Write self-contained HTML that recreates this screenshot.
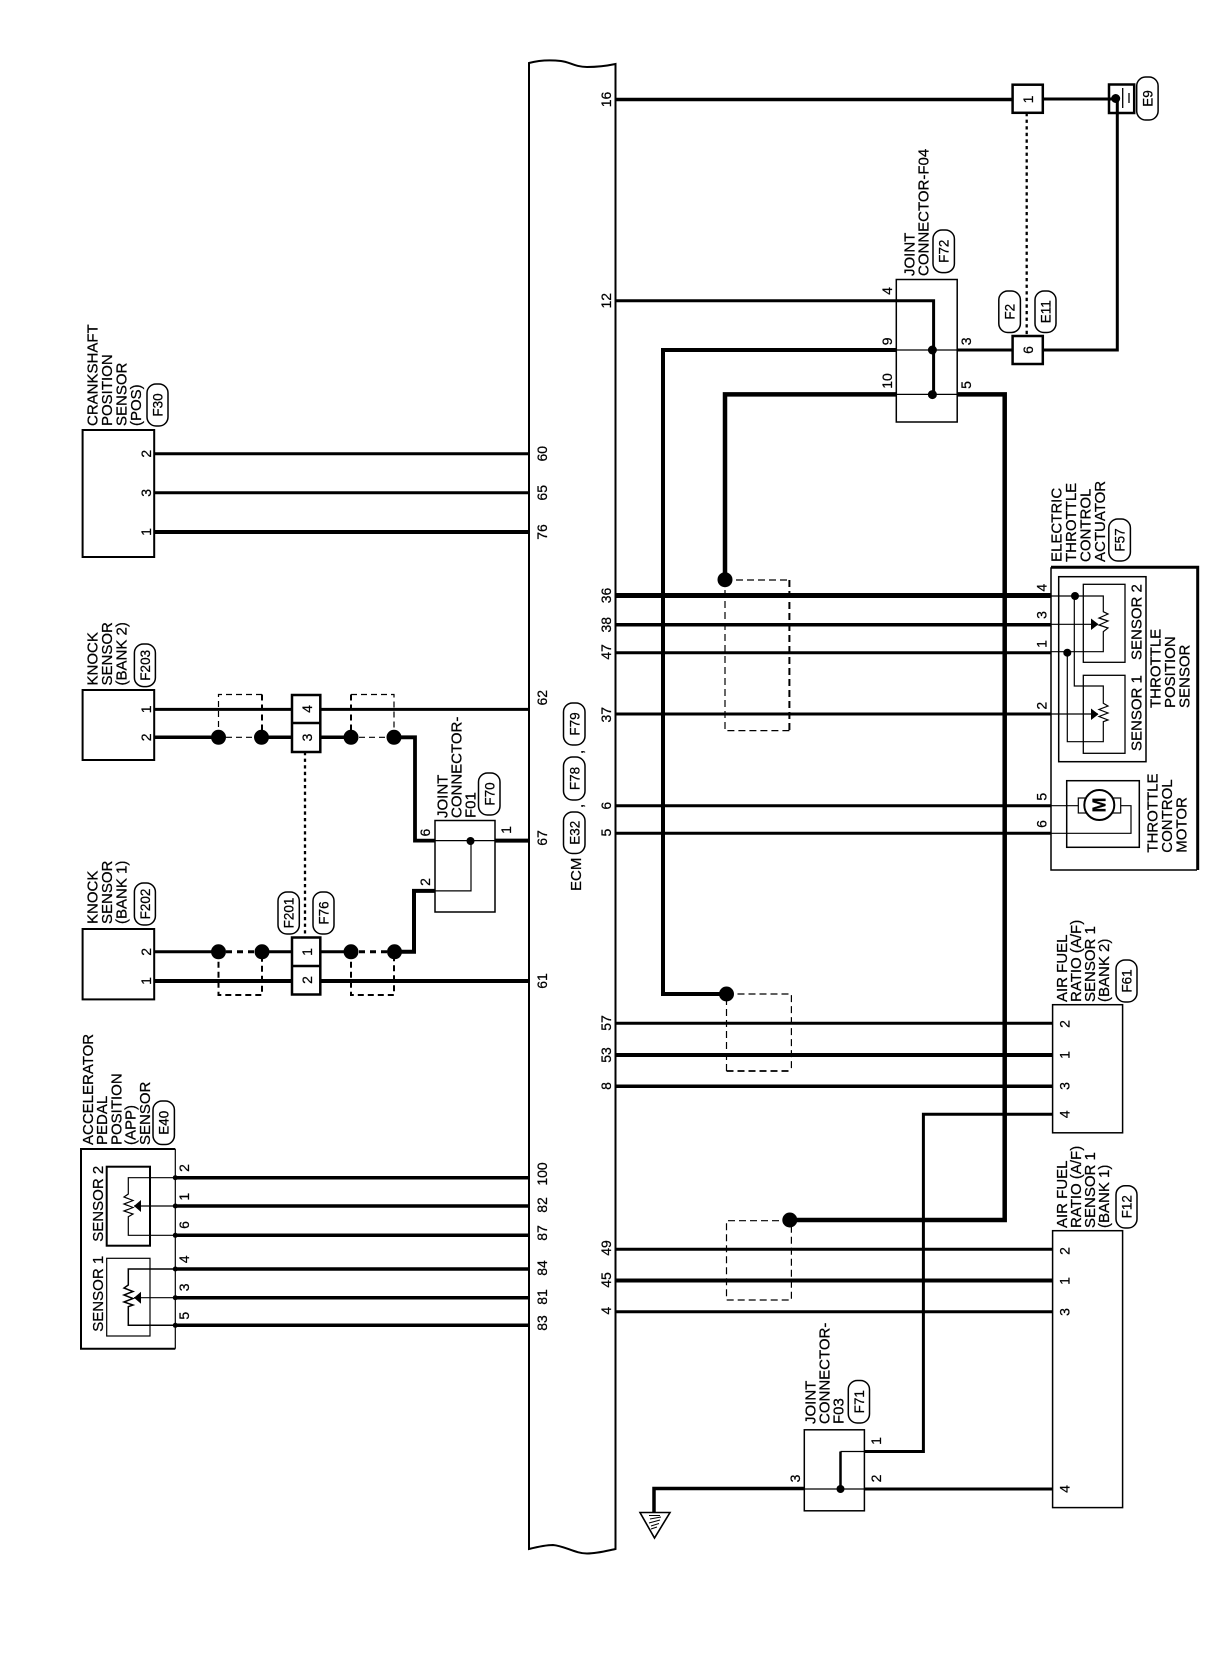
<!DOCTYPE html>
<html><head><meta charset="utf-8"><style>
html,body{margin:0;padding:0;background:#fff}
svg{display:block}
text{font-family:"Liberation Sans",sans-serif;fill:#000;stroke:#000;stroke-width:.25}
.l{font-size:15px}
.n{font-size:14px;text-anchor:middle}
.p{font-size:13.5px;text-anchor:middle}
.w,.b,.t{fill:none;stroke:#000}
.b{fill:#fff}
.pl{fill:#fff;stroke:#000;stroke-width:1.5}
</style></head><body>
<svg width="1216" height="1660" viewBox="0 0 1216 1660" xmlns="http://www.w3.org/2000/svg">
<rect width="1216" height="1660" fill="#fff"/>

<!-- ECM -->
<path class="w" stroke-width="2" d="M529 63C540 60 552 60 561 61C570 62 575 67 587 67C597 67 606 66 615.5 64V1549C606 1551 597 1553.5 587 1553.5C575 1553.5 565 1546 553 1545C545 1545 537 1547 529 1549Z"/>

<!-- left wires -->
<g class="w">
<path stroke-width="3" d="M154 453.7H529M154 492.8H529"/>
<path stroke-width="4" d="M154 532H529"/>
<path stroke-width="3" d="M154 709.4H529"/>
<path stroke-width="3.5" d="M154 737.3H218M262 737.3H292M320 737.3H351M394 737.3H415"/>
<path stroke-width="3.8" d="M394 737.3H415V840.6H435"/>
<path stroke-width="3" d="M154 951.8H218M262 951.8H292M320 951.8H351"/>
<path stroke-width="4" d="M394 951.8H414V890.9H435"/>
<path stroke-width="4" d="M154 981H529"/>
<path stroke-width="4" d="M495 840.6H529"/>
<path stroke-width="3.5" d="M175 1177.7H529M175 1206H529M175 1235.3H529M175 1269H529M175 1297.7H529M175 1325.3H529"/>
<!-- shields -->
<path stroke-width="1.2" stroke-dasharray="6 4" d="M218.5 737V694.5H262M351 694.5H394V737M226 737.3H254M359 737.3H387"/>
<path stroke-width="2" stroke-dasharray="6 4" d="M262 694.5V737M351 694.5V737"/>
<path stroke-width="2" stroke-dasharray="6 4" d="M218.5 951.8V995H262V951.8M351 951.8V995H394V951.8"/>
<path stroke-width="3" stroke-dasharray="6 5" d="M226 951.8H254M359 951.8H387"/>
<path stroke-width="2.3" stroke-dasharray="3.3 3.3" d="M305 752V937.5"/>
</g>
<g>
<circle cx="218.5" cy="737.3" r="7.5"/><circle cx="261.5" cy="737.3" r="7.5"/><circle cx="351" cy="737.3" r="7.5"/><circle cx="394" cy="737.3" r="7.5"/>
<circle cx="218.5" cy="951.8" r="7.5"/><circle cx="262" cy="951.8" r="7.5"/><circle cx="351" cy="951.8" r="7.5"/><circle cx="394.5" cy="951.8" r="7.5"/>
</g>

<!-- right wires -->
<g class="w">
<path stroke-width="3.5" d="M615.5 99.5H1013"/>
<path stroke-width="3" d="M1043 99H1117"/>
<path stroke-width="3" d="M1117.3 99V350H1043"/>
<path stroke-width="3" d="M957 350H1013"/>
<path stroke-width="2.3" stroke-dasharray="3.3 3.3" d="M1026.7 113V336"/>
<path stroke-width="3" d="M615.5 300.7H896"/>
<path stroke-width="4" d="M726.5 994H663V350H896"/>
<path stroke-width="4.5" d="M725 580V394.4H896"/>
<path stroke-width="4.5" d="M957 394.4H1004.7V1220H790"/>
<path stroke-width="5" d="M615.5 595.5H1051"/>
<path stroke-width="3.5" d="M615.5 624.7H1051"/>
<path stroke-width="3" d="M615.5 652.7H1051M615.5 714H1051M615.5 805.7H1051M615.5 833.2H1051"/>
<path stroke-width="3" d="M615.5 1023.2H1052.6"/>
<path stroke-width="4" d="M615.5 1055H1052.6"/>
<path stroke-width="3.5" d="M615.5 1086.2H1052.6"/>
<path stroke-width="3" d="M1052.6 1114.3H923.4V1451.5H864"/>
<path stroke-width="3" d="M615.5 1249.3H1052.6"/>
<path stroke-width="4" d="M615.5 1280.5H1052.6"/>
<path stroke-width="3" d="M615.5 1311.7H1052.6"/>
<path stroke-width="3" d="M864 1489H1052.6"/>
<path stroke-width="3.5" d="M804 1488.5H654V1513"/>
<!-- dashed shields -->
<path stroke-width="1.2" stroke-dasharray="7 4" d="M725 580H789.4M789.4 730.6H725V580"/>
<path stroke-width="2" stroke-dasharray="7 4" d="M789.4 580V730.6"/>
<path stroke-width="1.2" stroke-dasharray="7 4" d="M726.5 1071V994H791.4V1071"/>
<path stroke-width="1.8" stroke-dasharray="7 4" d="M726.5 1071H791.4"/>
<path stroke-width="1.2" stroke-dasharray="7 4" d="M790 1220.7H726.5V1300H791.4V1221"/>
</g>
<circle cx="725" cy="579.7" r="7.5"/><circle cx="726.5" cy="994" r="7.5"/><circle cx="789.8" cy="1220" r="7.5"/>

<!-- plain boxes -->
<g class="b" stroke-width="2">
<rect x="82.6" y="430" width="71.6" height="127"/>
<rect x="82.6" y="690" width="71.6" height="70"/>
<rect x="82.6" y="929" width="71.6" height="70.4"/>
<rect x="1052.6" y="1004.7" width="70" height="128.1" stroke-width="1.5"/>
<rect x="1052.6" y="1230.7" width="70" height="276.9" stroke-width="1.5"/>
</g>
<!-- inline connectors -->
<g class="b" stroke-width="2.5">
<rect x="292" y="695" width="28.3" height="57"/><path d="M292 723H320.3"/>
<rect x="292" y="937.5" width="28.3" height="57"/><path d="M292 966H320.3"/>
<rect x="1012.6" y="84.7" width="30.2" height="28.1"/>
<rect x="1012.6" y="336" width="30.2" height="28"/>
<rect x="1109" y="84.5" width="25.2" height="28.5"/>
</g>
<path class="w" stroke-width="1.3" d="M1122.7 88V108M1129 93V103"/>
<path class="w" stroke-width="3" d="M1109 99H1116M1117.3 99V113"/>
<circle cx="1115.7" cy="98.5" r="4.5"/>

<!-- joint F01 -->
<rect class="b" stroke-width="1.5" x="435" y="820.5" width="60" height="91.5"/>
<path class="w" stroke-width="1.2" d="M435 840.6H495M435 890.9H471V841"/>
<circle cx="470.5" cy="841" r="4"/>
<!-- joint F04 -->
<rect class="b" stroke-width="1.5" x="896.3" y="279.5" width="60.9" height="142.5"/>
<path class="w" stroke-width="1.2" d="M896 350H957M896 394.4H957"/>
<path class="w" stroke-width="3" d="M896 300.7H933.6V394.4"/>
<circle cx="932.4" cy="350" r="4.5"/><circle cx="932.4" cy="394.6" r="4.5"/>
<!-- joint F03 -->
<rect class="b" stroke-width="1.5" x="804.3" y="1429.8" width="60.1" height="81"/>
<path class="w" stroke-width="1.2" d="M804 1489H865M865 1451.5H840.5"/>
<path class="w" stroke-width="2.5" d="M840.5 1451.5V1489"/>
<circle cx="840.5" cy="1489" r="4"/>
<!-- ground -->
<path class="w" stroke-width="1.6" d="M640 1512.5H670L654.5 1538Z"/>
<path class="w" stroke-width="1" d="M649 1515.5H660M650 1519L661 1517M649 1523L660 1520M651 1526L659 1523.5M651 1529L657 1527"/>

<!-- F57 -->
<path class="w" stroke-width="1.5" d="M1051 567.3V870H1197"/>
<path class="w" stroke-width="3" d="M1051 567.3H1197.7V870"/>
<rect class="t" stroke-width="1.5" x="1058.7" y="576.7" width="87.3" height="185"/>
<rect class="t" stroke-width="1.3" x="1083.3" y="584.3" width="41.7" height="78"/>
<rect class="t" stroke-width="1.3" x="1083.3" y="675.3" width="41.7" height="78"/>
<path class="t" stroke-width="1.2" d="M1051 596H1103.3V611.7L1108 614L1099 618L1108 621L1099 625L1108 628L1103.3 631.7V651.7H1051"/>
<path class="t" stroke-width="1.2" d="M1051 624.3H1098"/>
<path d="M1098.5 624.3L1091 618.5V630Z"/>
<path class="t" stroke-width="1.2" d="M1074.3 596V686H1103.3V703.3L1108 706L1099 709.5L1108 713L1099 716.5L1108 720L1103.3 721.7V741.7H1067.3V652.7"/>
<path class="t" stroke-width="1.2" d="M1051 714H1098"/>
<path d="M1098.5 714.3L1091 708.5V720Z"/>
<circle cx="1075" cy="596" r="4"/><circle cx="1067.3" cy="652.7" r="4"/>
<!-- motor -->
<rect class="t" stroke-width="1.5" x="1066.7" y="780.7" width="72.6" height="66.6"/>
<rect class="t" stroke-width="1.2" x="1078.3" y="798" width="42.4" height="15"/>
<circle cx="1099.3" cy="805" r="15" fill="#fff" stroke="#000" stroke-width="2"/>
<path class="t" stroke-width="1.2" d="M1051 805.7H1078M1120.7 805.7H1131V833.3H1051"/>

<!-- APP -->
<path class="t" stroke-width="2" d="M175.3 1149H81V1348.7H175.3"/>
<path class="t" stroke-width="1.2" d="M175.3 1149V1348.7"/>
<rect class="t" stroke-width="2" x="106.7" y="1166.7" width="43.3" height="79"/>
<rect class="t" stroke-width="1.2" x="106.7" y="1258.3" width="43.3" height="77.7"/>
<path class="t" stroke-width="1.2" d="M175 1177.7H128.3V1194L124 1197L133 1200.5L124 1204L133 1207.5L124 1211L133 1214L128.3 1216.7V1235.3H175"/>
<path class="t" stroke-width="1.2" d="M175 1206H134"/>
<path d="M134 1206L141 1200V1212Z"/>
<path class="t" stroke-width="1.5" d="M175 1269H128.3V1285L124 1288L133 1291.5L124 1295L133 1298.5L124 1302L133 1305L128.3 1306.7V1325.3H175"/>
<path class="t" stroke-width="1.2" d="M175 1297.7H134"/>
<path d="M134 1297.7L141 1291.7V1303.7Z"/>
<g><circle cx="175.3" cy="1177.7" r="2.5"/><circle cx="175.3" cy="1206" r="2.5"/><circle cx="175.3" cy="1235.3" r="2.5"/><circle cx="175.3" cy="1269" r="2.5"/><circle cx="175.3" cy="1297.7" r="2.5"/><circle cx="175.3" cy="1325.3" r="2.5"/></g>

<!-- pills -->
<g class="pl">
<rect x="147" y="384" width="21" height="42" rx="9"/>
<rect x="134.4" y="644" width="21" height="42.6" rx="9"/>
<rect x="134.4" y="883" width="21" height="42" rx="9"/>
<rect x="278" y="892" width="21.3" height="42" rx="9"/>
<rect x="313" y="892" width="21" height="42" rx="9"/>
<rect x="478.5" y="773" width="21.5" height="42" rx="9"/>
<rect x="153" y="1101" width="21.4" height="43.5" rx="9"/>
<rect x="563.5" y="703" width="21.5" height="42" rx="9"/>
<rect x="563.5" y="757" width="21.5" height="43" rx="9"/>
<rect x="563.5" y="812" width="21.5" height="41.5" rx="9"/>
<rect x="1136.7" y="77" width="21.4" height="43" rx="9"/>
<rect x="933" y="230" width="21.4" height="42.6" rx="9"/>
<rect x="998.8" y="291" width="21.6" height="41.5" rx="9"/>
<rect x="1035" y="291" width="21" height="41.5" rx="9"/>
<rect x="1108.8" y="519" width="21.6" height="42" rx="9"/>
<rect x="1116" y="960" width="21" height="42" rx="9"/>
<rect x="1116" y="1185.7" width="21" height="42.3" rx="9"/>
<rect x="848.3" y="1380.5" width="21.2" height="42.5" rx="9"/>
</g>
<g>
<text class="p" transform="translate(162.5 405)rotate(-90)">F30</text>
<text class="p" transform="translate(149.8 665.3)rotate(-90)">F203</text>
<text class="p" transform="translate(149.8 904)rotate(-90)">F202</text>
<text class="p" transform="translate(293.5 913)rotate(-90)">F201</text>
<text class="p" transform="translate(328.5 913)rotate(-90)">F76</text>
<text class="p" transform="translate(494.3 794)rotate(-90)">F70</text>
<text class="p" transform="translate(168.7 1122.7)rotate(-90)">E40</text>
<text class="p" transform="translate(579.3 724)rotate(-90)">F79</text>
<text class="p" transform="translate(579.3 778.5)rotate(-90)">F78</text>
<text class="p" transform="translate(579.3 832.7)rotate(-90)">E32</text>
<text class="p" transform="translate(1152.6 98.5)rotate(-90)">E9</text>
<text class="p" transform="translate(948.7 251.3)rotate(-90)">F72</text>
<text class="p" transform="translate(1014.6 311.7)rotate(-90)">F2</text>
<text class="p" transform="translate(1050.5 311.7)rotate(-90)">E11</text>
<text class="p" transform="translate(1124.6 540)rotate(-90)">F57</text>
<text class="p" transform="translate(1131.5 981)rotate(-90)">F61</text>
<text class="p" transform="translate(1131.5 1206.8)rotate(-90)">F12</text>
<text class="p" transform="translate(863.9 1401.7)rotate(-90)">F71</text>
</g>

<!-- multi-line labels -->
<g class="l">
<text transform="translate(97.5 426)rotate(-90)"><tspan x="0">CRANKSHAFT</tspan><tspan x="0" dy="14.5">POSITION</tspan><tspan x="0" dy="14.5">SENSOR</tspan><tspan x="0" dy="14.5">(POS)</tspan></text>
<text transform="translate(97.5 685.5)rotate(-90)"><tspan x="0">KNOCK</tspan><tspan x="0" dy="14.5">SENSOR</tspan><tspan x="0" dy="14.5">(BANK 2)</tspan></text>
<text transform="translate(97.5 924)rotate(-90)"><tspan x="0">KNOCK</tspan><tspan x="0" dy="14.5">SENSOR</tspan><tspan x="0" dy="14.5">(BANK 1)</tspan></text>
<text transform="translate(93 1145)rotate(-90)"><tspan x="0">ACCELERATOR</tspan><tspan x="0" dy="14.2">PEDAL</tspan><tspan x="0" dy="14.2">POSITION</tspan><tspan x="0" dy="14.2">(APP)</tspan><tspan x="0" dy="14.2">SENSOR</tspan></text>
<text transform="translate(447.6 818)rotate(-90)"><tspan x="0">JOINT</tspan><tspan x="0" dy="14">CONNECTOR-</tspan><tspan x="0" dy="14">F01</tspan></text>
<text transform="translate(914.5 276)rotate(-90)"><tspan x="0">JOINT</tspan><tspan x="0" dy="14">CONNECTOR-F04</tspan></text>
<text transform="translate(815.3 1424)rotate(-90)"><tspan x="0">JOINT</tspan><tspan x="0" dy="14">CONNECTOR-</tspan><tspan x="0" dy="14">F03</tspan></text>
<text transform="translate(1061.7 562)rotate(-90)"><tspan x="0">ELECTRIC</tspan><tspan x="0" dy="14.5">THROTTLE</tspan><tspan x="0" dy="14.5">CONTROL</tspan><tspan x="0" dy="14.5">ACTUATOR</tspan></text>
<text transform="translate(1160.7 708)rotate(-90)"><tspan x="0">THROTTLE</tspan><tspan x="0" dy="14.5">POSITION</tspan><tspan x="0" dy="14.5">SENSOR</tspan></text>
<text transform="translate(1157.3 852.7)rotate(-90)"><tspan x="0">THROTTLE</tspan><tspan x="0" dy="14.7">CONTROL</tspan><tspan x="0" dy="14.7">MOTOR</tspan></text>
<text transform="translate(1066.8 1002)rotate(-90)"><tspan x="0">AIR FUEL</tspan><tspan x="0" dy="14">RATIO (A/F)</tspan><tspan x="0" dy="14">SENSOR 1</tspan><tspan x="0" dy="14">(BANK 2)</tspan></text>
<text transform="translate(1066.8 1228)rotate(-90)"><tspan x="0">AIR FUEL</tspan><tspan x="0" dy="14">RATIO (A/F)</tspan><tspan x="0" dy="14">SENSOR 1</tspan><tspan x="0" dy="14">(BANK 1)</tspan></text>
<text transform="translate(1141.5 660)rotate(-90)">SENSOR 2</text>
<text transform="translate(1141.5 751)rotate(-90)">SENSOR 1</text>
<text transform="translate(103 1241.7)rotate(-90)">SENSOR 2</text>
<text transform="translate(103 1331.7)rotate(-90)">SENSOR 1</text>
<text transform="translate(581 891)rotate(-90)">ECM</text>
<text transform="translate(583 754)rotate(-90)">,</text>
<text transform="translate(583 808)rotate(-90)">,</text>
<text style="font-size:18px;font-weight:bold;text-anchor:middle" transform="translate(1105.5 805)rotate(-90)">M</text>
</g>

<!-- numbers -->
<g class="n">
<text transform="translate(547 453.7)rotate(-90)">60</text>
<text transform="translate(547 492.8)rotate(-90)">65</text>
<text transform="translate(547 532)rotate(-90)">76</text>
<text transform="translate(547 697.7)rotate(-90)">62</text>
<text transform="translate(547 838)rotate(-90)">67</text>
<text transform="translate(547 981)rotate(-90)">61</text>
<text transform="translate(547 1174)rotate(-90)">100</text>
<text transform="translate(547 1205)rotate(-90)">82</text>
<text transform="translate(547 1233)rotate(-90)">87</text>
<text transform="translate(547 1268)rotate(-90)">84</text>
<text transform="translate(547 1297)rotate(-90)">81</text>
<text transform="translate(547 1323)rotate(-90)">83</text>
<text transform="translate(611 99.5)rotate(-90)">16</text>
<text transform="translate(611 300.7)rotate(-90)">12</text>
<text transform="translate(611 595.5)rotate(-90)">36</text>
<text transform="translate(611 624.7)rotate(-90)">38</text>
<text transform="translate(611 652)rotate(-90)">47</text>
<text transform="translate(611 714.7)rotate(-90)">37</text>
<text transform="translate(611 805.7)rotate(-90)">6</text>
<text transform="translate(611 832.6)rotate(-90)">5</text>
<text transform="translate(611 1023)rotate(-90)">57</text>
<text transform="translate(611 1055)rotate(-90)">53</text>
<text transform="translate(611 1086)rotate(-90)">8</text>
<text transform="translate(611 1248)rotate(-90)">49</text>
<text transform="translate(611 1280)rotate(-90)">45</text>
<text transform="translate(611 1310.7)rotate(-90)">4</text>
<text transform="translate(151 453.7)rotate(-90)">2</text>
<text transform="translate(151 492.8)rotate(-90)">3</text>
<text transform="translate(151 532)rotate(-90)">1</text>
<text transform="translate(151 709.4)rotate(-90)">1</text>
<text transform="translate(151 737.4)rotate(-90)">2</text>
<text transform="translate(151 951.8)rotate(-90)">2</text>
<text transform="translate(151 981)rotate(-90)">1</text>
<text transform="translate(312 709)rotate(-90)">4</text>
<text transform="translate(312 737.5)rotate(-90)">3</text>
<text transform="translate(312 952)rotate(-90)">1</text>
<text transform="translate(312 980)rotate(-90)">2</text>
<text transform="translate(430 832.6)rotate(-90)">6</text>
<text transform="translate(430 882)rotate(-90)">2</text>
<text transform="translate(511 830)rotate(-90)">1</text>
<text transform="translate(189 1168)rotate(-90)">2</text>
<text transform="translate(189 1196.7)rotate(-90)">1</text>
<text transform="translate(189 1225)rotate(-90)">6</text>
<text transform="translate(189 1259.3)rotate(-90)">4</text>
<text transform="translate(189 1287.3)rotate(-90)">3</text>
<text transform="translate(189 1315.7)rotate(-90)">5</text>
<text transform="translate(1033 99.5)rotate(-90)">1</text>
<text transform="translate(1033 350)rotate(-90)">6</text>
<text transform="translate(892 291)rotate(-90)">4</text>
<text transform="translate(892 341.4)rotate(-90)">9</text>
<text transform="translate(892 381)rotate(-90)">10</text>
<text transform="translate(971 341.4)rotate(-90)">3</text>
<text transform="translate(971 385)rotate(-90)">5</text>
<text transform="translate(1046.7 587.7)rotate(-90)">4</text>
<text transform="translate(1046.7 615)rotate(-90)">3</text>
<text transform="translate(1046.7 644)rotate(-90)">1</text>
<text transform="translate(1046.7 705.7)rotate(-90)">2</text>
<text transform="translate(1046.7 796.7)rotate(-90)">5</text>
<text transform="translate(1046.7 824)rotate(-90)">6</text>
<text transform="translate(1069.5 1024)rotate(-90)">2</text>
<text transform="translate(1069.5 1055)rotate(-90)">1</text>
<text transform="translate(1069.5 1086)rotate(-90)">3</text>
<text transform="translate(1069.5 1114.3)rotate(-90)">4</text>
<text transform="translate(1069.5 1251)rotate(-90)">2</text>
<text transform="translate(1069.5 1281)rotate(-90)">1</text>
<text transform="translate(1069.5 1312)rotate(-90)">3</text>
<text transform="translate(1069.5 1489)rotate(-90)">4</text>
<text transform="translate(800 1478.5)rotate(-90)">3</text>
<text transform="translate(881 1441)rotate(-90)">1</text>
<text transform="translate(881 1478.5)rotate(-90)">2</text>
</g>
</svg>
</body></html>
